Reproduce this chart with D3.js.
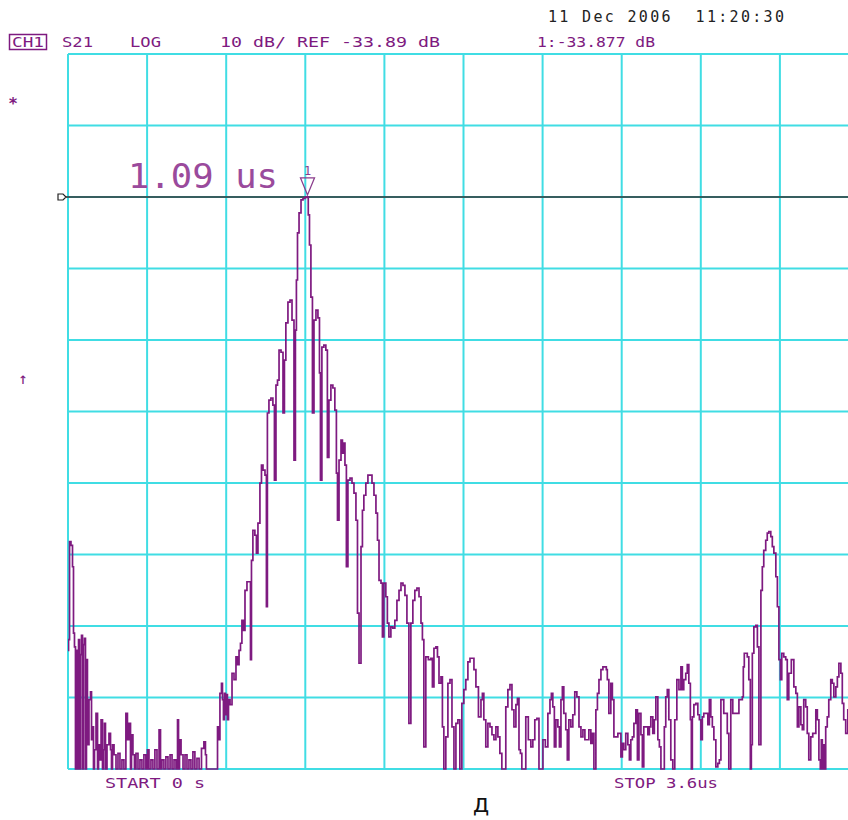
<!DOCTYPE html>
<html>
<head>
<meta charset="utf-8">
<script src="https://cdn.jsdelivr.net/npm/d3@7/dist/d3.min.js"></script>
<style>
  html, body { margin: 0; padding: 0; background: #fff; }
  svg { display: block; }
</style>
</head>
<body>
<svg id="chart" width="848" height="820"></svg>
<script>
const startTime = 0;          // us
const stopTime = 3.6;         // us
const refLevel = -33.89;      // dB
const scalePerDiv = 10;       // dB/div
const refDiv = 8;             // reference position (divisions from bottom)
const markerTime = 1.09;      // us
const markerValue = -33.877;  // dB

const headerTexts = ["S21", "LOG", "10 dB/ REF -33.89 dB", "1:-33.877 dB"];
const dateText = "11 Dec 2006  11:20:30";
const startLabel = "START 0 s";
const stopLabel = "STOP 3.6us";
const caption = "д";

// trace: [time us, level dB]
const trace = [
[0.000,-97.3],[0.005,-95.8],[0.009,-82.1],[0.018,-82.6],[0.023,-85.6],[0.027,-94.9],[0.032,-96.8],[0.036,-114],
[0.041,-97.3],[0.046,-114],[0.050,-95.8],[0.055,-114],[0.059,-97.9],[0.064,-95.2],[0.068,-114],[0.073,-96.5],
[0.077,-95.6],[0.082,-114],[0.086,-98.6],[0.091,-110.5],[0.100,-104.2],[0.105,-103.1],[0.109,-109.8],[0.114,-108.0],
[0.118,-114],[0.123,-111.2],[0.132,-106.1],[0.137,-114],[0.141,-110.5],[0.146,-112.6],[0.155,-107.0],[0.159,-114],
[0.164,-111.2],[0.168,-107.5],[0.173,-114],[0.182,-110.5],[0.191,-108.9],[0.196,-111.2],[0.200,-114],[0.205,-110.5],
[0.214,-111.9],[0.223,-114],[0.232,-111.7],[0.241,-114],[0.250,-112.6],[0.259,-114],[0.268,-106.1],[0.273,-109.8],
[0.282,-107.5],[0.287,-114],[0.291,-109.1],[0.300,-111.9],[0.305,-114],[0.314,-111.7],[0.323,-114],[0.332,-112.6],
[0.341,-114],[0.350,-111.9],[0.359,-114],[0.364,-111.2],[0.373,-114],[0.382,-112.6],[0.391,-114],[0.400,-111.2],
[0.410,-114],[0.419,-108.4],[0.423,-114],[0.432,-112.6],[0.441,-114],[0.450,-112.2],[0.460,-114],[0.469,-111.9],
[0.478,-114],[0.487,-112.6],[0.496,-114],[0.501,-107.0],[0.505,-114],[0.510,-109.8],[0.519,-111.9],[0.528,-114],
[0.537,-111.9],[0.546,-114],[0.555,-112.6],[0.564,-114],[0.573,-111.5],[0.582,-114],[0.592,-112.4],[0.601,-114],
[0.614,-111.0],[0.623,-110.1],[0.628,-111.9],[0.632,-114],[0.678,-114],[0.683,-108.0],[0.687,-109.8],[0.696,-103.3],
[0.701,-101.9],[0.705,-104.2],[0.710,-107.0],[0.714,-103.3],[0.719,-106.3],[0.723,-103.5],[0.728,-107.0],[0.733,-104.2],
[0.742,-104.9],[0.751,-100.5],[0.760,-101.4],[0.769,-98.2],[0.774,-99.3],[0.783,-97.3],[0.787,-96.3],[0.796,-93.1],
[0.801,-94.5],[0.810,-88.9],[0.819,-87.7],[0.828,-87.7],[0.833,-98.6],[0.837,-84.7],[0.846,-80.5],[0.855,-81.2],
[0.860,-83.7],[0.869,-79.5],[0.878,-73.9],[0.883,-71.4],[0.892,-72.1],[0.901,-72.8],[0.905,-91.2],[0.910,-64.1],
[0.919,-62.3],[0.928,-62.0],[0.937,-63.0],[0.942,-73.5],[0.951,-60.2],[0.956,-59.5],[0.965,-55.3],[0.974,-55.6],
[0.983,-64.1],[0.987,-56.7],[0.996,-51.5],[1.006,-48.6],[1.015,-48.3],[1.024,-51.1],[1.033,-70.7],[1.037,-52.5],
[1.042,-45.5],[1.047,-38.9],[1.056,-36.1],[1.065,-34.3],[1.074,-34.1],[1.083,-33.95],[1.090,-33.88],[1.097,-36.4],
[1.101,-40.6],[1.110,-47.9],[1.115,-64.1],[1.124,-51.1],[1.133,-49.7],[1.142,-50.8],[1.147,-58.5],[1.151,-73.5],
[1.160,-54.9],[1.169,-54.6],[1.178,-55.3],[1.183,-70.3],[1.192,-62.3],[1.201,-60.2],[1.210,-60.6],[1.219,-63.7],
[1.224,-72.5],[1.229,-79.1],[1.238,-70.7],[1.247,-67.9],[1.251,-69.7],[1.256,-68.3],[1.265,-71.4],[1.269,-85.6],
[1.279,-73.5],[1.288,-73.2],[1.297,-73.9],[1.306,-75.3],[1.315,-79.1],[1.320,-92.1],[1.329,-99.1],[1.338,-82.8],
[1.342,-77.7],[1.351,-75.6],[1.360,-73.9],[1.370,-72.8],[1.379,-72.8],[1.388,-73.9],[1.397,-75.6],[1.406,-78.1],
[1.411,-81.9],[1.420,-87.5],[1.429,-87.9],[1.433,-95.4],[1.442,-87.9],[1.451,-89.8],[1.456,-93.5],[1.465,-95.4],
[1.474,-94.0],[1.483,-94.2],[1.492,-93.1],[1.502,-90.3],[1.511,-88.9],[1.520,-87.9],[1.529,-88.2],[1.538,-89.6],
[1.547,-93.5],[1.556,-107.5],[1.565,-93.5],[1.574,-90.3],[1.583,-88.9],[1.593,-88.6],[1.602,-89.8],[1.611,-93.5],
[1.615,-95.8],[1.624,-110.8],[1.633,-98.2],[1.647,-98.6],[1.656,-98.4],[1.661,-102.4],[1.670,-97.0],[1.679,-96.8],
[1.684,-98.2],[1.693,-101.9],[1.702,-101.0],[1.706,-108.0],[1.715,-114],[1.724,-109.4],[1.734,-101.9],[1.743,-101.4],
[1.752,-108.0],[1.761,-114],[1.770,-107.5],[1.779,-107.0],[1.788,-114],[1.797,-104.7],[1.806,-102.8],[1.815,-101.4],
[1.825,-98.9],[1.834,-98.4],[1.843,-98.4],[1.852,-100.0],[1.861,-102.4],[1.875,-106.6],[1.884,-104.2],[1.888,-103.3],
[1.897,-107.0],[1.906,-110.8],[1.916,-107.5],[1.925,-108.0],[1.934,-109.1],[1.943,-109.8],[1.952,-108.0],[1.961,-109.4],
[1.970,-111.7],[1.979,-114],[1.988,-114],[1.997,-105.2],[2.007,-102.8],[2.016,-102.1],[2.025,-105.6],[2.034,-108.0],
[2.043,-104.9],[2.048,-104.0],[2.057,-111.2],[2.061,-111.7],[2.070,-114],[2.079,-114],[2.088,-106.6],[2.102,-109.8],
[2.111,-110.8],[2.120,-109.8],[2.129,-107.0],[2.139,-106.8],[2.148,-114],[2.157,-114],[2.166,-109.8],[2.179,-110.8],
[2.189,-106.1],[2.198,-104.2],[2.202,-103.3],[2.211,-105.2],[2.216,-110.8],[2.225,-107.0],[2.234,-108.0],[2.239,-110.8],
[2.248,-104.2],[2.252,-102.4],[2.261,-106.1],[2.270,-108.4],[2.275,-112.6],[2.284,-107.0],[2.293,-108.0],[2.302,-106.3],
[2.311,-103.1],[2.321,-103.8],[2.330,-108.0],[2.339,-109.4],[2.348,-108.4],[2.357,-109.8],[2.366,-109.8],[2.375,-108.4],
[2.384,-110.3],[2.389,-108.9],[2.398,-114],[2.407,-105.6],[2.412,-103.3],[2.421,-101.4],[2.430,-100.0],[2.439,-99.6],
[2.448,-99.6],[2.452,-100.0],[2.457,-101.4],[2.466,-106.1],[2.475,-101.9],[2.480,-104.2],[2.489,-109.4],[2.498,-109.4],
[2.507,-108.9],[2.512,-108.9],[2.521,-112.2],[2.525,-110.3],[2.534,-111.2],[2.543,-108.9],[2.553,-110.5],[2.557,-112.6],
[2.566,-109.8],[2.571,-109.4],[2.580,-107.5],[2.589,-105.6],[2.594,-112.6],[2.603,-106.1],[2.612,-109.1],[2.616,-113.6],
[2.625,-108.0],[2.634,-108.0],[2.644,-109.1],[2.648,-108.0],[2.657,-106.6],[2.666,-108.9],[2.671,-107.0],[2.680,-103.8],
[2.689,-109.8],[2.694,-110.8],[2.703,-114],[2.712,-114],[2.716,-108.0],[2.725,-103.8],[2.730,-102.8],[2.739,-107.0],
[2.748,-112.6],[2.757,-114],[2.766,-107.0],[2.776,-101.4],[2.785,-102.8],[2.794,-99.6],[2.798,-102.8],[2.807,-101.4],
[2.816,-100.5],[2.821,-99.3],[2.830,-101.9],[2.835,-107.0],[2.839,-114],[2.844,-106.6],[2.853,-104.9],[2.862,-104.7],
[2.871,-106.3],[2.876,-107.0],[2.885,-109.8],[2.889,-106.6],[2.898,-106.1],[2.907,-106.1],[2.917,-107.7],[2.921,-104.2],
[2.930,-106.6],[2.935,-108.0],[2.944,-109.8],[2.953,-113.6],[2.962,-113.1],[2.967,-112.6],[2.976,-104.2],[2.980,-104.2],
[2.989,-106.1],[2.998,-106.1],[3.003,-108.9],[3.012,-114],[3.021,-104.2],[3.030,-106.1],[3.035,-106.1],[3.044,-106.1],
[3.049,-106.1],[3.058,-104.2],[3.067,-104.2],[3.071,-103.8],[3.076,-99.6],[3.080,-97.7],[3.089,-97.7],[3.094,-98.2],
[3.103,-101.4],[3.108,-114],[3.112,-110.5],[3.117,-97.7],[3.126,-94.0],[3.135,-93.8],[3.140,-96.8],[3.149,-110.5],
[3.158,-88.9],[3.162,-85.6],[3.171,-83.3],[3.180,-81.9],[3.185,-80.9],[3.194,-80.7],[3.203,-81.4],[3.208,-82.8],
[3.217,-83.7],[3.226,-87.0],[3.231,-91.2],[3.240,-98.6],[3.244,-101.4],[3.253,-97.7],[3.262,-98.2],[3.271,-98.6],
[3.276,-104.2],[3.285,-100.5],[3.299,-98.6],[3.308,-102.4],[3.317,-103.3],[3.322,-108.0],[3.331,-105.2],[3.340,-107.7],
[3.344,-108.4],[3.353,-104.2],[3.362,-105.2],[3.367,-108.9],[3.376,-112.6],[3.385,-109.4],[3.394,-108.9],[3.399,-108.9],
[3.408,-105.6],[3.413,-107.0],[3.422,-112.6],[3.426,-114],[3.431,-109.8],[3.435,-114],[3.440,-110.5],[3.444,-114],
[3.453,-108.0],[3.458,-106.6],[3.467,-104.2],[3.476,-101.4],[3.481,-101.9],[3.490,-103.8],[3.499,-102.4],[3.504,-101.0],
[3.513,-99.1],[3.522,-100.5],[3.526,-104.7],[3.535,-107.0],[3.544,-108.9],[3.554,-105.6],[3.600,-105.0]
];

// ---- layout ----
const svg = d3.select("#chart");
const W = 848;
const plot = { left: 68, right: 859, top: 54, bottom: 769 };
const purple = "#7e1a80";
const cyan = "#40dde4";
const mono = "'DejaVu Sans Mono', 'Liberation Mono', monospace";

const bottomLevel = refLevel - refDiv * scalePerDiv;
const topLevel = bottomLevel + 10 * scalePerDiv;

const x = d3.scaleLinear().domain([startTime, stopTime]).range([plot.left, plot.right]);
const y = d3.scaleLinear().domain([bottomLevel, topLevel]).range([plot.bottom, plot.top]);

const xTicks = d3.range(0, 11).map(i => startTime + i * (stopTime - startTime) / 10);
const yTicks = d3.range(0, 11).map(i => bottomLevel + i * scalePerDiv);

// grid
const grid = svg.append("g");
grid.selectAll("line.v").data(xTicks).join("line")
  .attr("x1", d => x(d)).attr("x2", d => x(d))
  .attr("y1", plot.top).attr("y2", plot.bottom)
  .attr("stroke", cyan).attr("stroke-width", 2);
grid.selectAll("line.h").data(yTicks).join("line")
  .attr("x1", plot.left).attr("x2", W)
  .attr("y1", d => y(d)).attr("y2", d => y(d))
  .attr("stroke", cyan).attr("stroke-width", 2);

// reference line
svg.append("line")
  .attr("x1", plot.left - 2).attr("x2", W)
  .attr("y1", y(refLevel)).attr("y2", y(refLevel))
  .attr("stroke", "#333").attr("stroke-width", 1.5);
const ry = y(refLevel);
svg.append("path")
  .attr("d", `M58,${ry-3} h5 l3,3 l-3,3 h-5 z`)
  .attr("fill", "#fff").attr("stroke", "#222").attr("stroke-width", 1.2);

// trace
svg.append("clipPath").attr("id", "clip").append("rect")
  .attr("x", plot.left).attr("y", plot.top).attr("width", W - plot.left).attr("height", plot.bottom - plot.top + 1);
const line = d3.line().x(d => x(d[0])).y(d => Math.min(y(d[1]), plot.bottom)).curve(d3.curveStep);
svg.append("path")
  .datum(trace)
  .attr("clip-path", "url(#clip)")
  .attr("d", line)
  .attr("fill", "none")
  .attr("stroke", purple)
  .attr("stroke-width", 1.7)
  .attr("stroke-linejoin", "miter");

// marker
const mx = x(markerTime), my = y(markerValue);
svg.append("path")
  .attr("d", `M${mx-7},${my-19} L${mx+7},${my-19} L${mx},${my-2} Z`)
  .attr("fill", "none").attr("stroke", "#8a3c8c").attr("stroke-width", 1.3);
svg.append("text").attr("x", mx).attr("y", my - 22).attr("text-anchor", "middle")
  .attr("font-family", mono).attr("font-size", 12).attr("fill", "#8a3c8c").text("1");
svg.append("text").attr("x", 128).attr("y", 188)
  .attr("font-family", mono).attr("font-size", 33).attr("fill", "#9a4a9c")
  .attr("textLength", 150).attr("lengthAdjust", "spacingAndGlyphs")
  .text(`${markerTime.toFixed(2)} us`);

// header
svg.append("rect").attr("x", 9.5).attr("y", 34.5).attr("width", 37).attr("height", 15)
  .attr("fill", "none").attr("stroke", purple).attr("stroke-width", 1.5);
svg.append("text").attr("x", 12).attr("y", 47).attr("font-family", mono).attr("font-size", 14)
  .attr("fill", purple).attr("textLength", 32).attr("lengthAdjust", "spacingAndGlyphs").text("CH1");
const headerPos = [[62, 31], [130, 31], [220, 220], [537, 118]];
headerTexts.forEach((t, i) => {
  svg.append("text").attr("x", headerPos[i][0]).attr("y", 47)
    .attr("font-family", mono).attr("font-size", 14).attr("fill", purple)
    .attr("textLength", headerPos[i][1]).attr("lengthAdjust", "spacingAndGlyphs").text(t);
});
svg.append("text").attr("x", 548).attr("y", 22)
  .attr("font-family", mono).attr("font-size", 15).attr("fill", "#222")
  .attr("textLength", 236).attr("lengthAdjust", "spacing")
  .style("white-space", "pre").text(dateText);

// side symbols
svg.append("text").attr("x", 13).attr("y", 109).attr("text-anchor", "middle")
  .attr("font-family", mono).attr("font-size", 16).attr("font-weight", "bold").attr("fill", purple).text("*");
svg.append("text").attr("x", 23).attr("y", 384).attr("text-anchor", "middle")
  .attr("font-family", mono).attr("font-size", 16).attr("fill", purple).text("↑");

// bottom labels
svg.append("text").attr("x", 105).attr("y", 788).attr("font-family", mono).attr("font-size", 14)
  .attr("fill", purple).attr("textLength", 100).attr("lengthAdjust", "spacingAndGlyphs").text(startLabel);
svg.append("text").attr("x", 614).attr("y", 788).attr("font-family", mono).attr("font-size", 14)
  .attr("fill", purple).attr("textLength", 104).attr("lengthAdjust", "spacingAndGlyphs").text(stopLabel);
svg.append("text").attr("x", 481).attr("y", 812).attr("text-anchor", "middle")
  .attr("font-family", "'DejaVu Sans', sans-serif").attr("font-size", 24).attr("fill", "#111").text(caption);
</script>
</body>
</html>
